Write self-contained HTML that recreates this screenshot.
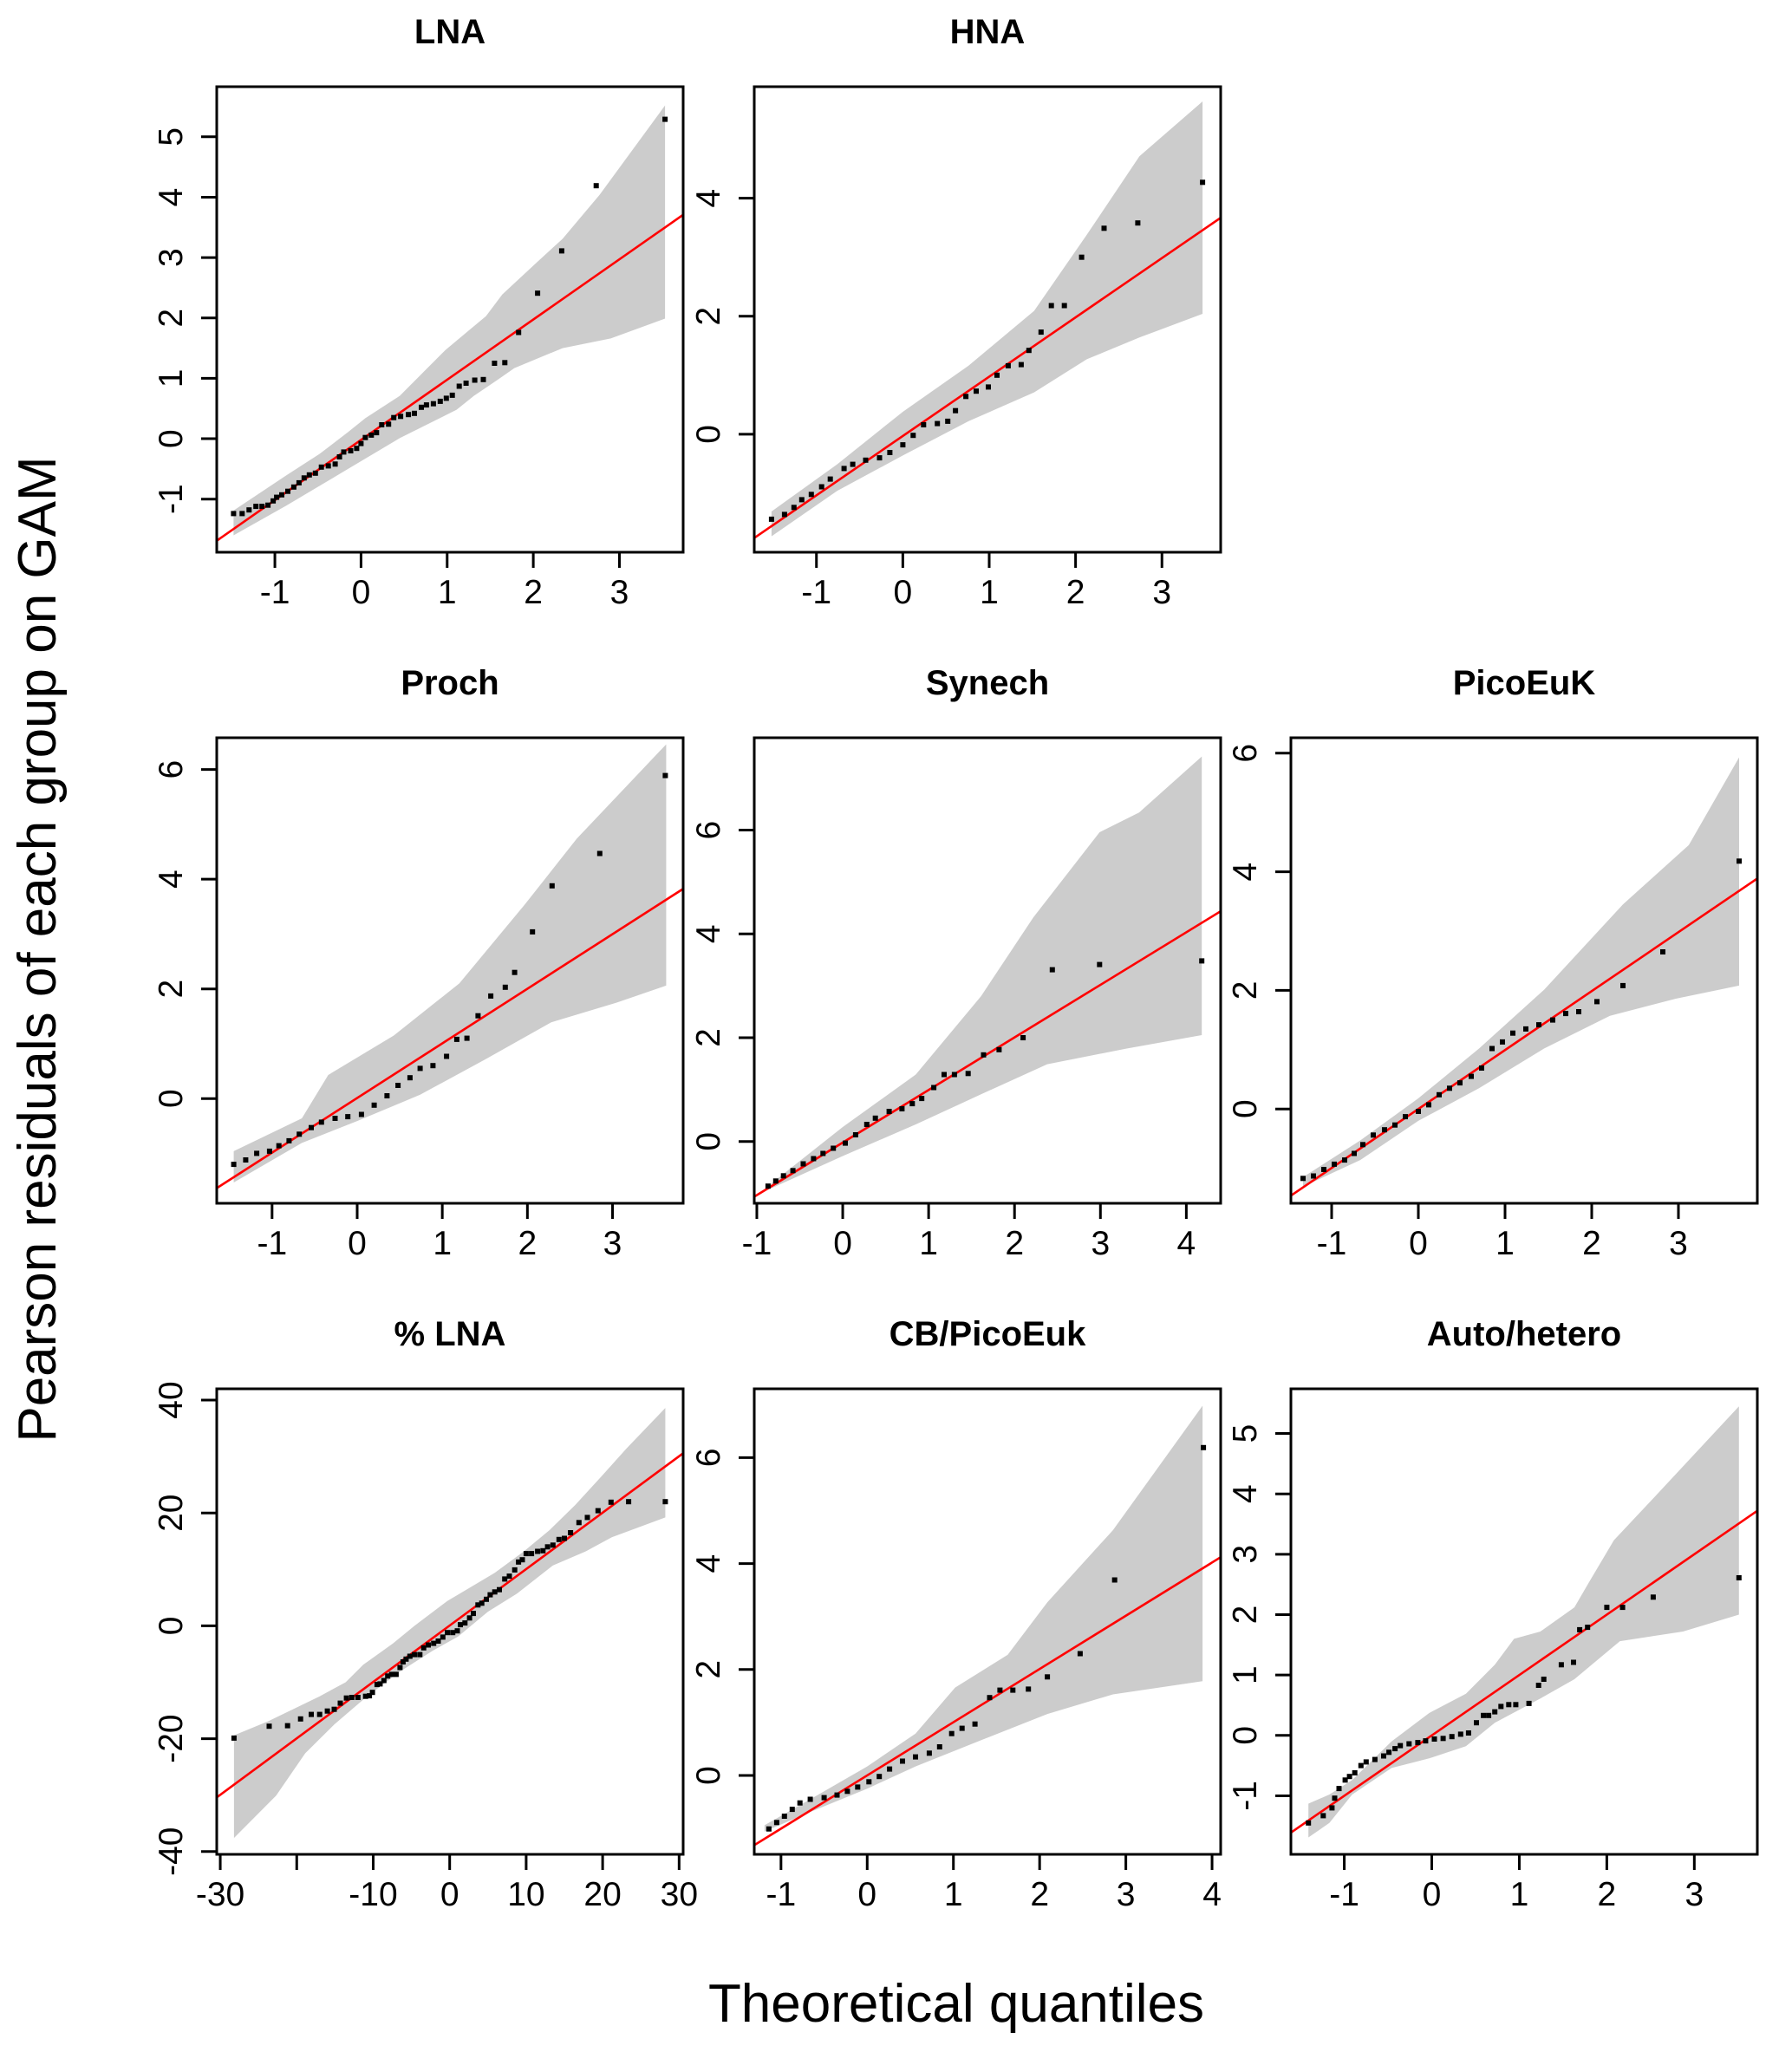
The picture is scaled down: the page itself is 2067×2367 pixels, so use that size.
<!DOCTYPE html>
<html><head><meta charset="utf-8"><style>
html,body{margin:0;padding:0;background:#fff;}
svg{display:block;font-family:"Liberation Sans",Arial,sans-serif;}
</style></head><body>
<svg id="fig" width="2067" height="2367" viewBox="0 0 2067 2367" xmlns="http://www.w3.org/2000/svg">
<rect x="0" y="0" width="2067" height="2367" fill="#fff"/>
<text transform="translate(64,1095) rotate(-90)" text-anchor="middle" font-size="62">Pearson residuals of each group on GAM</text>
<text x="1103" y="2332" text-anchor="middle" font-size="62">Theoretical quantiles</text>
</svg>
<script>
// ---- LNA ----
const lnaX=[-1.48,-1.38,-1.30,-1.22,-1.15,-1.08,-1.02,-0.98,-0.92,-0.85,-0.78,-0.72,-0.66,-0.60,-0.53,-0.46,-0.38,-0.30,-0.25,-0.20,-0.12,-0.05,0,0.05,0.12,0.18,0.24,0.32,0.38,0.46,0.55,0.62,0.70,0.76,0.84,0.92,0.99,1.06,1.14,1.22,1.32,1.42,1.55,1.67,1.83,2.05,2.33,2.73,3.53];
const lnaY=[-1.24,-1.24,-1.18,-1.12,-1.12,-1.10,-1.03,-0.97,-0.93,-0.87,-0.80,-0.73,-0.65,-0.60,-0.57,-0.47,-0.45,-0.42,-0.30,-0.22,-0.20,-0.16,-0.08,0.02,0.06,0.10,0.23,0.24,0.35,0.37,0.40,0.42,0.52,0.56,0.58,0.62,0.67,0.72,0.87,0.92,0.97,0.98,1.25,1.26,1.76,2.41,3.11,4.19,5.29];
const lnaUpX=[-1.48,-0.87,-0.48,-0.15,0.05,0.45,0.98,1.45,1.64,2.04,2.34,2.77,3.53];
const lnaUpY=[-1.19,-0.61,-0.25,0.11,0.34,0.71,1.47,2.03,2.39,2.92,3.31,4.04,5.52];
const lnaLoX=[-1.48,-0.87,-0.21,0.45,1.11,1.31,1.58,1.78,2.34,2.90,3.53];
const lnaLoY=[-1.60,-1.11,-0.55,0.01,0.48,0.71,0.97,1.17,1.50,1.66,1.99];
// ---- HNA ----
const hnaX=[-1.52,-1.37,-1.26,-1.17,-1.06,-0.94,-0.84,-0.68,-0.58,-0.43,-0.27,-0.15,0,0.12,0.24,0.40,0.52,0.61,0.73,0.85,0.99,1.09,1.22,1.37,1.46,1.60,1.72,1.87,2.07,2.33,2.72,3.47];
const hnaY=[-1.44,-1.36,-1.24,-1.11,-1.02,-0.89,-0.76,-0.58,-0.51,-0.44,-0.40,-0.31,-0.18,-0.02,0.16,0.18,0.22,0.40,0.64,0.73,0.80,1.00,1.16,1.18,1.42,1.73,2.18,2.18,3.00,3.49,3.58,4.27];
const hnaUpX=[-1.52,-0.76,0,0.76,1.52,2.13,2.74,3.47];
const hnaUpY=[-1.31,-0.51,0.38,1.16,2.09,3.38,4.71,5.64];
const hnaLoX=[-1.52,-0.76,0,0.76,1.52,2.13,2.74,3.47];
const hnaLoY=[-1.73,-0.96,-0.36,0.22,0.71,1.27,1.64,2.04];
// ---- Proch ----
const prX=[-1.45,-1.31,-1.18,-1.03,-0.92,-0.80,-0.68,-0.54,-0.42,-0.26,-0.11,0.05,0.20,0.35,0.48,0.62,0.74,0.89,1.05,1.17,1.29,1.42,1.57,1.74,1.85,2.06,2.29,2.85,3.62];
const prY=[-1.20,-1.12,-1.00,-0.96,-0.86,-0.77,-0.65,-0.53,-0.43,-0.36,-0.33,-0.29,-0.12,0.05,0.24,0.38,0.55,0.60,0.77,1.08,1.10,1.51,1.87,2.03,2.30,3.04,3.88,4.47,5.89];
const prUpX=[-1.45,-0.65,-0.34,0.43,1.20,1.97,2.58,3.63];
const prUpY=[-0.96,-0.36,0.43,1.15,2.10,3.54,4.74,6.46];
const prLoX=[-1.45,-0.65,0,0.74,1.51,2.28,3.05,3.63];
const prLoY=[-1.53,-0.81,-0.41,0.07,0.72,1.39,1.75,2.06];
// ---- Synech ----
const syX=[-0.87,-0.78,-0.69,-0.58,-0.46,-0.34,-0.23,-0.11,0.03,0.15,0.28,0.38,0.54,0.69,0.81,0.92,1.06,1.18,1.30,1.46,1.64,1.82,2.10,2.44,2.99,4.18];
const syY=[-0.86,-0.76,-0.66,-0.56,-0.43,-0.33,-0.23,-0.13,-0.03,0.13,0.33,0.45,0.58,0.63,0.73,0.83,1.04,1.29,1.29,1.31,1.67,1.77,2.00,3.31,3.41,3.48];
const syUpX=[-0.87,0,0.85,1.61,2.22,2.99,3.45,4.18];
const syUpY=[-0.86,0.28,1.29,2.80,4.32,5.96,6.34,7.42];
const syLoX=[-0.87,0,0.85,1.61,2.38,3.30,4.18];
const syLoY=[-0.93,-0.28,0.33,0.91,1.49,1.79,2.05];
// ---- PicoEuK ----
const peX=[-1.33,-1.21,-1.09,-0.97,-0.85,-0.74,-0.64,-0.52,-0.39,-0.27,-0.15,0,0.12,0.24,0.36,0.48,0.61,0.73,0.85,0.97,1.09,1.24,1.39,1.55,1.70,1.85,2.06,2.36,2.82,3.70];
const peY=[-1.17,-1.13,-1.02,-0.93,-0.86,-0.75,-0.60,-0.44,-0.35,-0.27,-0.13,-0.04,0.07,0.24,0.35,0.44,0.55,0.69,1.02,1.13,1.28,1.35,1.42,1.50,1.61,1.64,1.81,2.08,2.65,4.18];
const peUpX=[-1.33,-0.67,0,0.70,1.45,2.36,3.12,3.70];
const peUpY=[-1.15,-0.53,0.18,1.02,2.01,3.45,4.45,5.93];
const peLoX=[-1.33,-0.67,0,0.70,1.45,2.21,2.97,3.70];
const peLoY=[-1.31,-0.86,-0.20,0.35,1.02,1.57,1.86,2.08];
// ---- % LNA ----
const plX=[-28.2,-23.6,-21.2,-19.5,-18.1,-17.0,-16.0,-15.1,-14.3,-13.5,-12.8,-12.0,-11.0,-10.5,-10.1,-9.5,-9.1,-8.6,-8.1,-7.6,-7.0,-6.5,-6.1,-5.7,-5.2,-4.6,-3.9,-3.4,-2.8,-2.1,-1.5,-0.9,-0.3,0.4,1.0,1.4,2.0,2.6,3.1,3.7,4.2,4.8,5.3,5.9,6.5,7.2,7.8,8.5,9.0,9.5,10.0,10.7,11.5,12.2,12.8,13.5,14.3,15.0,15.8,16.9,18.0,19.4,21.1,23.4,28.2];
const plY=[-19.9,-17.8,-17.7,-16.5,-15.7,-15.7,-15.1,-14.8,-13.7,-12.8,-12.7,-12.7,-12.5,-12.4,-11.8,-10.4,-10.3,-9.7,-8.9,-8.6,-8.6,-7.4,-6.4,-5.9,-5.4,-5.1,-5.1,-3.9,-3.4,-3.1,-2.7,-2.0,-1.2,-1.2,-0.9,0.2,0.5,1.4,2.2,3.7,4.0,4.7,5.5,6.0,6.4,8.3,8.8,9.9,11.3,11.7,12.8,12.8,13.2,13.3,14.0,14.3,15.3,15.5,16.5,18.3,19.2,20.4,21.9,22.0,22.0];
const plUpX=[-28.2,-23.7,-17.0,-13.6,-11.3,-7.4,-4.6,-0.3,2.8,5.9,9.7,13.1,16.4,19.8,23.1,28.2];
const plUpY=[-19.4,-16.9,-12.5,-10.0,-6.9,-3.1,0.0,4.4,6.9,9.4,13.2,17.0,21.4,26.4,31.4,38.6];
const plLoX=[-28.2,-22.7,-18.9,-15.1,-10.8,-6.5,-2.2,1.1,5.0,8.8,13.5,17.8,21.2,28.2];
const plLoY=[-37.6,-30.1,-22.6,-17.5,-12.5,-8.1,-4.4,-1.9,2.5,5.7,10.7,13.2,15.7,19.2];
// ---- CB/PicoEuk ----
const cbX=[-1.14,-1.05,-0.96,-0.87,-0.78,-0.66,-0.50,-0.35,-0.23,-0.11,0.02,0.14,0.26,0.41,0.56,0.72,0.84,0.98,1.10,1.25,1.42,1.54,1.69,1.87,2.09,2.47,2.87,3.90];
const cbY=[-1.01,-0.89,-0.77,-0.64,-0.52,-0.45,-0.42,-0.37,-0.30,-0.22,-0.12,-0.02,0.12,0.27,0.35,0.42,0.54,0.79,0.89,0.97,1.47,1.61,1.61,1.63,1.86,2.30,3.69,6.19];
const cbUpX=[-1.19,-0.66,0,0.56,1.02,1.63,2.09,2.85,3.89];
const cbUpY=[-0.94,-0.45,0.17,0.79,1.66,2.28,3.27,4.63,6.98];
const cbLoX=[-1.19,-0.66,0,0.56,1.33,2.09,2.85,3.89];
const cbLoY=[-1.06,-0.69,-0.25,0.17,0.67,1.16,1.53,1.78];
// ---- Auto/hetero ----
const ahX=[-1.41,-1.24,-1.14,-1.11,-1.06,-0.99,-0.94,-0.88,-0.81,-0.75,-0.65,-0.55,-0.49,-0.42,-0.36,-0.26,-0.16,-0.07,0.03,0.13,0.23,0.33,0.42,0.51,0.59,0.65,0.72,0.79,0.88,0.96,1.11,1.22,1.28,1.48,1.62,1.69,1.78,2.00,2.18,2.53,3.51];
const ahY=[-1.45,-1.33,-1.20,-1.04,-0.88,-0.74,-0.68,-0.62,-0.50,-0.44,-0.40,-0.34,-0.28,-0.22,-0.17,-0.14,-0.12,-0.09,-0.06,-0.05,-0.02,0.02,0.04,0.21,0.33,0.33,0.39,0.48,0.51,0.51,0.53,0.83,0.93,1.17,1.21,1.75,1.79,2.12,2.12,2.29,2.61];
const ahUpX=[-1.41,-1.17,-0.91,-0.46,-0.03,0.39,0.72,0.94,1.24,1.63,1.79,2.08,2.54,3.51];
const ahUpY=[-1.13,-0.98,-0.74,-0.10,0.37,0.69,1.17,1.60,1.72,2.12,2.52,3.23,3.94,5.45];
const ahLoX=[-1.41,-1.17,-0.91,-0.46,-0.03,0.39,0.72,1.24,1.63,2.15,2.87,3.51];
const ahLoY=[-1.69,-1.45,-0.98,-0.54,-0.38,-0.18,0.21,0.61,0.93,1.56,1.72,2.00];

const panels=[
 {name:"LNA",slug:"lna",col:0,row:0,xl:[-1.675,3.74],yl:[-1.88,5.83],xt:[-1,0,1,2,3],yt:[-1,0,1,2,3,4,5],ln:[0.997,-0.02],px:lnaX,py:lnaY,ux:lnaUpX,uy:lnaUpY,lx:lnaLoX,ly:lnaLoY},
 {name:"HNA",slug:"hna",col:1,row:0,xl:[-1.72,3.68],yl:[-2.0,5.89],xt:[-1,0,1,2,3],yt:[0,2,4],ln:[1.005,-0.03],px:hnaX,py:hnaY,ux:hnaUpX,uy:hnaUpY,lx:hnaLoX,ly:hnaLoY},
 {name:"Proch",slug:"proch",col:0,row:1,xl:[-1.65,3.83],yl:[-1.91,6.58],xt:[-1,0,1,2,3],yt:[0,2,4,6],ln:[0.996,0.01],px:prX,py:prY,ux:prUpX,uy:prUpY,lx:prLoX,ly:prLoY},
 {name:"Synech",slug:"synech",col:1,row:1,xl:[-1.03,4.4],yl:[-1.19,7.78],xt:[-1,0,1,2,3,4],yt:[0,2,4,6],ln:[1.013,-0.02],px:syX,py:syY,ux:syUpX,uy:syUpY,lx:syLoX,ly:syLoY},
 {name:"PicoEuK",slug:"picoeuk",col:2,row:1,xl:[-1.47,3.91],yl:[-1.59,6.26],xt:[-1,0,1,2,3],yt:[0,2,4,6],ln:[0.994,0.0],px:peX,py:peY,ux:peUpX,uy:peUpY,lx:peLoX,ly:peLoY},
 {name:"% LNA",slug:"pct-lna",col:0,row:2,xl:[-30.46,30.53],yl:[-40.5,42.0],xt:[-30,-20,-10,0,10,20,30],xtl:["-30","","-10","0","10","20","30"],yt:[-40,-20,0,20,40],ln:[1.0,0.05],px:plX,py:plY,ux:plUpX,uy:plUpY,lx:plLoX,ly:plLoY},
 {name:"CB/PicoEuk",slug:"cb-picoeuk",col:1,row:2,xl:[-1.31,4.1],yl:[-1.49,7.3],xt:[-1,0,1,2,3,4],yt:[0,2,4,6],ln:[1.005,0.0],px:cbX,py:cbY,ux:cbUpX,uy:cbUpY,lx:cbLoX,ly:cbLoY},
 {name:"Auto/hetero",slug:"auto-hetero",col:2,row:2,xl:[-1.61,3.72],yl:[-1.97,5.74],xt:[-1,0,1,2,3],yt:[-1,0,1,2,3,4,5],ln:[1.0,0.0],px:ahX,py:ahY,ux:ahUpX,uy:ahUpY,lx:ahLoX,ly:ahLoY}
];
const colL=[250,870,1489], rowT=[100,851,1602], PW=538, PH=537;
const NS="http://www.w3.org/2000/svg";
const svg=document.getElementById('fig');
function mk(tag,attrs,parent){const e=document.createElementNS(NS,tag);for(const k in attrs)e.setAttribute(k,attrs[k]);(parent||svg).appendChild(e);return e;}
function fmt(v){return v<0?"-"+Math.abs(v):String(v);}

panels.forEach(p=>{
 const L=colL[p.col],T=rowT[p.row],R=L+PW,B=T+PH;
 const sx=v=>L+(v-p.xl[0])/(p.xl[1]-p.xl[0])*PW;
 const sy=v=>B-(v-p.yl[0])/(p.yl[1]-p.yl[0])*PH;
 const g=mk('g',{});
 
 
 const clipId='clip-'+p.slug;
 const cp=mk('clipPath',{id:clipId},g);
 mk('rect',{x:L,y:T,width:PW,height:PH},cp);
 const t=mk('text',{x:(L+R)/2,y:T-50,'text-anchor':'middle','font-size':40,'font-weight':'bold'},g);
 t.textContent=p.name;
 
 
 let d="";
 p.ux.forEach((x,i)=>{d+=(i?"L":"M")+sx(x).toFixed(1)+","+sy(p.uy[i]).toFixed(1);});
 for(let i=p.lx.length-1;i>=0;i--){d+="L"+sx(p.lx[i]).toFixed(1)+","+sy(p.ly[i]).toFixed(1);}
 d+="Z";
 const env=mk('path',{d:d,fill:'#cccccc','clip-path':'url(#'+clipId+')'},g);
 
 
 const x0=p.xl[0],x1=p.xl[1];
 const ln=mk('line',{x1:sx(x0),y1:sy(p.ln[0]*x0+p.ln[1]),x2:sx(x1),y2:sy(p.ln[0]*x1+p.ln[1]),stroke:'#ff0000','stroke-width':2.6,'clip-path':'url(#'+clipId+')'},g);
 
 
 p.px.forEach((x,i)=>{
  const r=mk('rect',{x:(sx(x)-3).toFixed(1),y:(sy(p.py[i])-3).toFixed(1),width:6,height:6,fill:'#000'},g);
  
  
 });
 const fr=mk('rect',{x:L,y:T,width:PW,height:PH,fill:'none',stroke:'#000','stroke-width':3},g);
 
 
 p.xt.forEach((v,i)=>{
  const X=sx(v);
  const tk=mk('line',{x1:X,y1:B,x2:X,y2:B+18,stroke:'#000','stroke-width':3},g);
  
  
  const lab=p.xtl?p.xtl[i]:fmt(v);
  if(lab!==""){
   const tl=mk('text',{x:X,y:B+59,'text-anchor':'middle','font-size':39},g);
   tl.textContent=lab;
   
   
  }
 });
 p.yt.forEach(v=>{
  const Y=sy(v);
  const tk=mk('line',{x1:L-18,y1:Y,x2:L,y2:Y,stroke:'#000','stroke-width':3},g);
  
  
  const tl=mk('text',{transform:'translate('+(L-40)+','+Y.toFixed(1)+') rotate(-90)','text-anchor':'middle','font-size':39},g);
  tl.textContent=fmt(v);
  
  
 });
});
</script>
</body></html>
